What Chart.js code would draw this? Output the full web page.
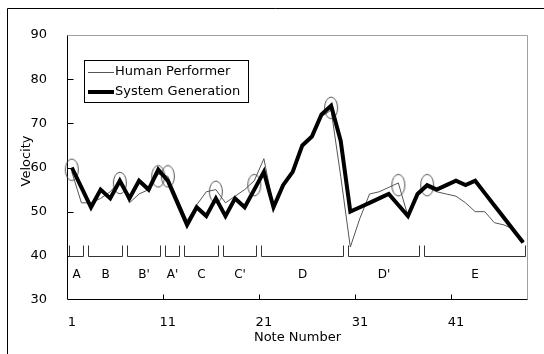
<!DOCTYPE html>
<html><head><meta charset="utf-8">
<script src="https://cdn.jsdelivr.net/npm/chart.js@4.4.1/dist/chart.umd.min.js"></script>
<style>html,body{margin:0;padding:0;background:#fff;}canvas{display:block;}</style>
</head><body>
<canvas id="c" width="544" height="354"></canvas>
<script>
// ---- data ----
const notes = ['1','2','3','4','5','6','7','8','9','10','11','12','13','14','15','16','17','18','19','20','21','22','23','24','25','26','27','28','29','30','31','32','33','34','35','36','37','38','39','40','41','42','43','44','45','46','47','48'];
const humanPerformer = [59,52,52,53,54.5,57,52,54,55,58.5,58,53,48,51.5,54.5,55,52,53.5,55,57,62,51,56,59,65,67,71.5,73,58,42,48.5,54,54.5,55.5,56.5,49,54,55.5,54.5,54,53.5,52,50,50,47.5,47,46,43];
const systemGeneration = [60,55.5,51,55,53,57,53,57,55,59.5,57,52,47,51,49,53,49,53,51,55,59,51,56,59,65,67,72,74,66,50,51,52,53,54,51.5,49,54,56,55,56,57,56,57,54.2,51.4,48.6,45.8,43];
const circledNotes = ['1','6','10','11','16','20','28','35','38'];
const circledValues = [59.5,56.5,58,58,54.5,56,73.5,56,56];
const xTickNotes = ['1','11','21','31','41'];
const yTicks = [30,40,50,60,70,80,90];
const groupLabels = ['A','B',"B'","A'",'C',"C'",'D',"D'",'E'];
const groupFirst = [1,3,7,11,13,17,21,30,38];
const groupLast  = [2,6,10,12,16,20,29,37,48];
const bracketValue = 40;

const FONT = "'DejaVu Sans', sans-serif";

// ellipse marker
const ell = document.createElement('canvas');
ell.width = 16; ell.height = 24;
(function(){const g=ell.getContext('2d');g.strokeStyle='#555';g.lineWidth=1;g.beginPath();g.ellipse(8,12,6.5,10.8,0,0,Math.PI*2);g.stroke();})();

const decor = {
  id: 'decor',
  beforeDatasetsDraw(chart){
    const ctx = chart.ctx, a = chart.chartArea, xs = chart.scales.x, ys = chart.scales.y;
    ctx.save();
    // outer border (top/left)
    ctx.strokeStyle = '#000'; ctx.lineWidth = 1;
    ctx.beginPath(); ctx.moveTo(7.5, 354); ctx.lineTo(7.5, 8.5); ctx.lineTo(544, 8.5); ctx.stroke();
    // plot frame: grey top/right
    const L = Math.round(a.left)+0.5, R = Math.round(a.right)-0.5, T = Math.round(a.top)+0.5, B = Math.round(a.bottom)-0.5;
    ctx.strokeStyle = '#a0a0a0';
    ctx.beginPath(); ctx.moveTo(L, T); ctx.lineTo(R, T); ctx.lineTo(R, B); ctx.stroke();
    ctx.strokeStyle = '#000';
    ctx.beginPath(); ctx.moveTo(L, T); ctx.lineTo(L, B); ctx.lineTo(R, B); ctx.stroke();
    // y ticks inward
    ctx.beginPath();
    yTicks.forEach(v => { const y = Math.round(ys.getPixelForValue(v))+0.5; if (v>30 && v<90){ ctx.moveTo(L, y); ctx.lineTo(L+6, y);} });
    // x ticks inward at left boundary of labelled notes
    const half = (xs.getPixelForValue(1) - xs.getPixelForValue(0))/2;
    xTickNotes.forEach(n => { const i = notes.indexOf(n); if (i>0){ const x = Math.round(xs.getPixelForValue(i) - half)+0.5; ctx.moveTo(x, B); ctx.lineTo(x, B-5);} });
    ctx.stroke();
    // brackets
    const by = Math.round(ys.getPixelForValue(bracketValue))+0.5;
    ctx.strokeStyle = '#333';
    ctx.fillStyle = '#000';
    ctx.font = '12px ' + FONT; ctx.textAlign = 'center'; ctx.textBaseline = 'middle';
    groupLabels.forEach((lab, k) => {
      const x1 = Math.round(xs.getPixelForValue(groupFirst[k]-1) - half + 2)+0.5;
      const x2 = Math.round(xs.getPixelForValue(groupLast[k]-1) + half - 2)-0.5;
      ctx.beginPath(); ctx.moveTo(x1, by-11); ctx.lineTo(x1, by); ctx.lineTo(x2, by); ctx.lineTo(x2, by-11); ctx.stroke();
      ctx.fillText(lab, (x1+x2)/2, by+18);
    });
    // axis titles
    ctx.font = '13px ' + FONT;
    ctx.fillText('Note Number', (a.left+a.right)/2, 338);
    ctx.save(); ctx.translate(27, 161); ctx.rotate(-Math.PI/2); ctx.fillText('Velocity', 0, 0); ctx.restore();
    ctx.restore();
  },
  afterDraw(chart){
    const ctx = chart.ctx;
    const ds = chart.data.datasets;
    ctx.save();
    ctx.fillStyle = '#fff'; ctx.fillRect(84.5, 60.5, 164, 42);
    ctx.strokeStyle = '#000'; ctx.lineWidth = 1; ctx.strokeRect(84.5, 60.5, 164, 42);
    const items = [ds[1], ds[0]];
    const ys = [72, 91.5];
    ctx.font = '13px ' + FONT; ctx.textAlign = 'left'; ctx.textBaseline = 'middle'; ctx.fillStyle = '#000';
    items.forEach((d, i) => {
      ctx.strokeStyle = d.borderColor; ctx.lineWidth = d.borderWidth;
      const y = d.borderWidth % 2 ? Math.round(ys[i])+0.5 : Math.round(ys[i]);
      ctx.beginPath(); ctx.moveTo(88, y); ctx.lineTo(114, y); ctx.stroke();
      ctx.fillText(d.label, 115, ys[i]);
    });
    ctx.restore();
  }
};

new Chart(document.getElementById('c'), {
  type: 'line',
  data: {
    labels: notes,
    datasets: [
      { label: 'System Generation', data: systemGeneration, borderColor: '#000', borderWidth: 4, pointRadius: 0, tension: 0, fill: false, order: 0 },
      { label: 'Human Performer', data: humanPerformer, borderColor: '#555', borderWidth: 1, pointRadius: 0, tension: 0, fill: false, order: 1 },
      { label: 'circles', data: circledNotes.map((n, i) => ({x: n, y: circledValues[i]})), showLine: false, pointStyle: ell, pointRadius: 10, order: 2 }
    ]
  },
  options: {
    responsive: false, devicePixelRatio: 1, animation: false,
    layout: { padding: { left: 8, right: 16, top: 35, bottom: 0 } },
    plugins: { legend: { display: false }, tooltip: { enabled: false } },
    scales: {
      x: {
        type: 'category', offset: true,
        grid: { display: false, offset: true }, border: { display: false },
        ticks: { autoSkip: false, maxRotation: 0, padding: 7, color: '#000', font: { family: FONT, size: 13 },
          callback: function(v){ const l = this.getLabelForValue(v); return xTickNotes.includes(l) ? l : ''; } },
        afterFit: s => { s.height = 54; }
      },
      y: {
        min: 30, max: 90,
        grid: { display: false }, border: { display: false },
        ticks: { stepSize: 10, padding: 12, color: '#000', font: { family: FONT, size: 13 } },
        afterFit: s => { s.width = 59; }
      }
    }
  },
  plugins: [decor]
});
</script>
</body></html>
